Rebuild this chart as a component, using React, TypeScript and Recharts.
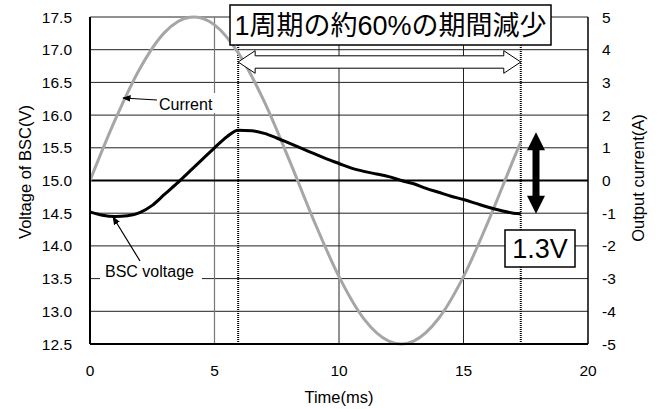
import React from 'react';
import {
  ComposedChart, Line, XAxis, YAxis, CartesianGrid, ReferenceLine,
} from 'recharts';

// Output current (A) sampled over one mains cycle
const currentTime = [0, 1, 2, 3, 4, 4.2, 5, 6, 7, 8, 9, 10, 11, 12, 12.5, 13, 14, 15, 16, 17, 17.3];
const currentAmps = [0, 1.84, 3.42, 4.53, 4.99, 5.0, 4.76, 3.85, 2.41, 0.63, -1.24, -2.94, -4.23, -4.91, -5.0, -4.91, -4.22, -2.94, -1.24, 0.63, 1.18];

// Voltage across the BSC (V)
const voltTime = [0, 0.5, 1, 1.5, 2, 2.5, 3, 3.5, 4, 4.5, 5, 5.5, 5.95, 6.5, 7, 7.5, 8, 8.5, 9, 9.5, 10, 10.5, 11, 11.5, 12, 12.5, 13, 13.5, 14, 14.5, 15, 15.5, 16, 16.5, 17, 17.3];
const voltValues = [14.52, 14.47, 14.45, 14.46, 14.51, 14.62, 14.79, 14.96, 15.14, 15.32, 15.5, 15.67, 15.77, 15.76, 15.72, 15.65, 15.57, 15.49, 15.41, 15.33, 15.26, 15.19, 15.14, 15.1, 15.06, 15.0, 14.95, 14.88, 14.82, 14.76, 14.71, 14.65, 14.59, 14.54, 14.5, 14.49];

const timeTicks = [0, 5, 10, 15, 20];
const voltTicks = [12.5, 13, 13.5, 14, 14.5, 15, 15.5, 16, 16.5, 17, 17.5];
const ampTicks = [-5, -4, -3, -2, -1, 0, 1, 2, 3, 4, 5];

// start/end of the decreasing period
const dropStart = 5.95;
const dropEnd = 17.3;

const currentData = currentTime.map((t, i) => ({ t, a: currentAmps[i] }));
const voltData = voltTime.map((t, i) => ({ t, v: voltValues[i] }));

const W = 657;
const H = 409;
const PL = 90, PR = 588, PT = 17, PB = 344;
const FONT = '"Liberation Sans", Arial, "Noto Sans CJK JP", sans-serif';

const sx = (t: number) => PL + (t / 20) * (PR - PL);
const sv = (v: number) => PB - ((v - 12.5) / 5) * (PB - PT);

const vPeak = Math.max(...voltValues);
const vEnd = voltValues[voltValues.length - 1];

const Overlay = () => {
  const x0 = sx(dropStart);
  const x1 = sx(dropEnd);
  const cy = 62;
  const hl = 17, hw = 11.3, sw = 6.2;
  const hollow = [
    [x0, cy], [x0 + hl, cy - hw], [x0 + hl, cy - sw], [x1 - hl, cy - sw], [x1 - hl, cy - hw],
    [x1, cy], [x1 - hl, cy + hw], [x1 - hl, cy + sw], [x0 + hl, cy + sw], [x0 + hl, cy + hw],
  ].map((p) => p.join(',')).join(' ');

  const ax = 536;
  const yTop = sv(vPeak) + 2;
  const yBot = sv(vEnd);
  const bh = 18, bw = 9, bs = 3.5;
  const solid = [
    [ax, yTop], [ax + bw, yTop + bh], [ax + bs, yTop + bh], [ax + bs, yBot - bh], [ax + bw, yBot - bh],
    [ax, yBot], [ax - bw, yBot - bh], [ax - bs, yBot - bh], [ax - bs, yTop + bh], [ax - bw, yTop + bh],
  ].map((p) => p.join(',')).join(' ');

  return (
    <svg width={W} height={H} style={{ position: 'absolute', left: 0, top: 0, pointerEvents: 'none' }} fontFamily={FONT}>
      <defs>
        <marker id="tip" viewBox="0 0 10 10" refX="9" refY="5" markerWidth="7" markerHeight="7" orient="auto-start-reverse">
          <path d="M0,1 L10,5 L0,9 z" fill="#000" />
        </marker>
      </defs>

      {/* series labels */}
      <rect x={155} y={93} width={67} height={20} fill="#fff" />
      <text x={159} y={110} fontSize={16} fill="#000">Current</text>
      <line x1={157} y1={100} x2={123} y2={98} stroke="#000" strokeWidth={1.2} markerEnd="url(#tip)" />

      <rect x={100} y={263} width={102} height={21} fill="#fff" />
      <text x={105} y={277} fontSize={16} fill="#000">BSC voltage</text>
      <line x1={140} y1={261} x2={113} y2={217} stroke="#000" strokeWidth={1.2} markerEnd="url(#tip)" />

      {/* decreasing period */}
      <polygon points={hollow} fill="#fff" stroke="#000" strokeWidth={1} />
      <rect x={230} y={5} width={321} height={40} fill="#fff" stroke="#000" strokeWidth={1.5} />
      <text x={390.5} y={26} fontSize={27} textAnchor="middle" dominantBaseline="central" fill="#000">1周期の約60%の期間減少</text>

      {/* voltage swing */}
      <polygon points={solid} fill="#000" />
      <rect x={505} y={230} width={70} height={37} fill="#fff" stroke="#000" strokeWidth={1.5} />
      <text x={540} y={249} fontSize={27} textAnchor="middle" dominantBaseline="central" fill="#000">1.3V</text>

      {/* axis titles */}
      <text x={0} y={0} fontSize={16.5} textAnchor="middle" fill="#000" transform="translate(31,172) rotate(-90)">Voltage of BSC(V)</text>
      <text x={0} y={0} fontSize={16.5} textAnchor="middle" fill="#000" transform="translate(644,178) rotate(-90)">Output current(A)</text>
      <text x={339} y={403} fontSize={16.5} textAnchor="middle" fill="#000">Time(ms)</text>
    </svg>
  );
};

export default function App() {
  return (
    <div style={{ position: 'absolute', left: 0, top: 0, width: W, height: H, background: '#fff', fontFamily: FONT }}>
      <ComposedChart width={W} height={H} margin={{ top: PT, right: W - PR - 60, left: PL - 80, bottom: H - PB - 50 }}>
        <CartesianGrid yAxisId="v" stroke="#222" strokeWidth={1} vertical={false} horizontalValues={voltTicks} />
        <ReferenceLine yAxisId="v" x={5} stroke="#777" strokeWidth={1.2} />
        <ReferenceLine yAxisId="v" x={10} stroke="#222" strokeWidth={1} />
        <ReferenceLine yAxisId="v" x={15} stroke="#222" strokeWidth={1} />
        <XAxis
          dataKey="t"
          type="number"
          domain={[0, 20]}
          ticks={timeTicks}
          height={50}
          tickLine={false}
          tickSize={0}
          tickMargin={21}
          axisLine={{ stroke: '#000', strokeWidth: 2 }}
          tick={{ fill: '#000', fontSize: 15.5 }}
          allowDataOverflow
        />
        <YAxis
          yAxisId="v"
          type="number"
          domain={[12.5, 17.5]}
          ticks={voltTicks}
          width={80}
          tickLine={false}
          tickSize={0}
          tickMargin={18}
          tickFormatter={(v: number) => v.toFixed(1)}
          axisLine={{ stroke: '#000', strokeWidth: 2 }}
          tick={{ fill: '#000', fontSize: 15.5 }}
        />
        <YAxis
          yAxisId="a"
          orientation="right"
          type="number"
          domain={[-5, 5]}
          ticks={ampTicks}
          width={60}
          tickLine={false}
          tickSize={0}
          tickMargin={14}
          axisLine={{ stroke: '#000', strokeWidth: 1.5 }}
          tick={{ fill: '#000', fontSize: 15.5, textAnchor: 'start' }}
        />
        <ReferenceLine yAxisId="a" y={0} stroke="#000" strokeWidth={2} />
        <ReferenceLine yAxisId="v" x={dropStart} stroke="#000" strokeWidth={2} strokeDasharray="1 1" />
        <ReferenceLine yAxisId="v" x={dropEnd} stroke="#000" strokeWidth={2} strokeDasharray="1 1" />
        <Line
          yAxisId="a"
          data={currentData}
          dataKey="a"
          type="monotone"
          stroke="#a6a6a6"
          strokeWidth={3}
          dot={false}
          isAnimationActive={false}
        />
        <Line
          yAxisId="v"
          data={voltData}
          dataKey="v"
          type="monotone"
          stroke="#000"
          strokeWidth={3}
          dot={false}
          isAnimationActive={false}
        />
      </ComposedChart>
      <Overlay />
    </div>
  );
}
